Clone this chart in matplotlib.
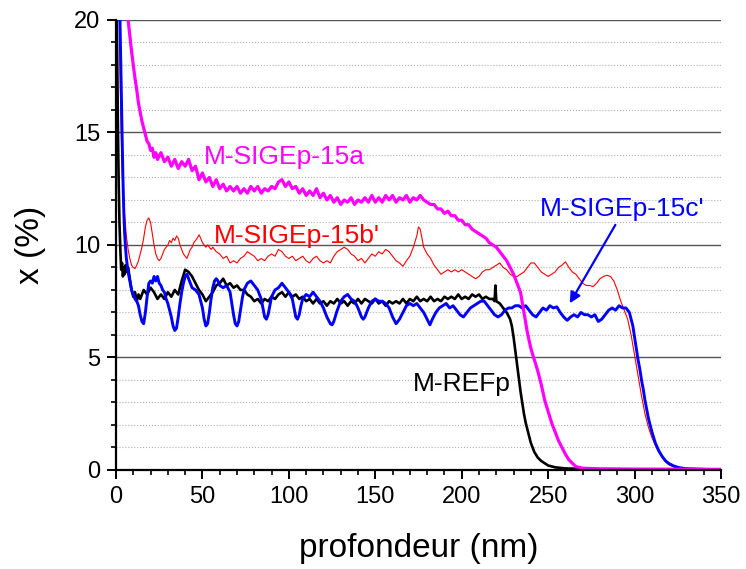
import matplotlib
matplotlib.use("Agg")
import matplotlib.pyplot as plt
from matplotlib.ticker import MultipleLocator

plt.rcParams['font.family'] = ['Liberation Sans', 'DejaVu Sans']

# --- data (depth in nm, x in %) ---
mag_x = [7, 8, 9, 10, 11, 12, 13, 14, 15, 16, 17, 18, 19, 20, 21, 22, 23,
         24, 26, 28, 30, 32, 34, 36, 38, 40, 42, 44, 46, 48, 50, 52, 54, 56, 58,
         60, 62, 64, 66, 68, 70, 72, 74, 76, 78, 80, 82, 84, 86, 88, 90, 92, 94,
         96, 98, 100, 102, 104, 106, 108, 110, 112, 114, 116, 118, 120, 122, 124,
         126, 128, 130, 132, 134, 136, 138, 140, 142, 144, 146, 148, 150, 152,
         154, 156, 158, 160, 162, 164, 166, 168, 170, 172, 174, 176, 178, 180,
         182, 184, 186, 188, 190, 192, 194, 196, 198, 200, 202, 204, 206, 208,
         210, 212, 214, 216, 218, 220, 222, 224, 226, 228, 230, 232, 234, 236,
         238, 240, 242, 244, 246, 248, 250, 252, 254, 256, 258, 260, 262, 264,
         266, 270, 280, 300, 350]
mag_y = [20, 19.3, 18.6, 18.0, 17.4, 16.9, 16.3, 15.9, 15.5, 15.2, 14.9, 14.6, 14.5, 14.2, 14.3, 13.9, 14.1,
         13.8, 14.1, 13.7, 13.9, 13.5, 13.8, 13.4, 13.7, 13.5, 13.8, 13.3, 13.5, 12.9, 13.2, 12.8, 13.0, 12.6, 12.9,
         12.5, 12.7, 12.4, 12.6, 12.4, 12.6, 12.3, 12.5, 12.3, 12.6, 12.4, 12.6, 12.3, 12.5, 12.4, 12.6, 12.5, 12.8,
         12.9, 12.6, 12.8, 12.5, 12.6, 12.3, 12.5, 12.2, 12.4, 12.2, 12.5, 12.1, 12.3, 12.0, 12.2,
         11.9, 12.1, 11.8, 12.0, 11.9, 12.1, 11.8, 12.0, 11.9, 12.1, 11.9, 12.2, 11.9, 12.1,
         11.9, 12.2, 12.0, 12.2, 11.9, 12.1, 12.0, 12.2, 11.9, 12.1, 12.0, 12.2, 12.0, 11.9,
         11.8, 11.8, 11.6, 11.6, 11.4, 11.5, 11.3, 11.3, 11.1, 11.1, 10.9, 10.9, 10.7, 10.6,
         10.5, 10.4, 10.3, 10.1, 10.0, 9.9, 9.7, 9.5, 9.3, 9.0, 8.7, 8.3, 7.9, 7.0,
         6.1, 5.4, 4.9, 4.4, 3.8, 3.1, 2.6, 2.1, 1.7, 1.3, 1.0, 0.7, 0.45, 0.3,
         0.15, 0.08, 0.05, 0.04, 0.03]

ref_x = [0.5, 1, 1.5, 2, 2.5, 3, 3.5, 4, 4.5, 5, 5.5, 6, 7, 8, 9, 10, 11, 12, 13, 14,
         16, 18, 20, 22, 24, 26, 28, 30, 32, 34, 36, 38, 40, 42, 44, 46, 48, 50,
         52, 54, 56, 58, 60, 62, 64, 66, 68, 70, 72, 74, 76, 78, 80, 82, 84, 86,
         88, 90, 92, 94, 96, 98, 100, 102, 104, 106, 108, 110, 112, 114, 116, 118,
         120, 122, 124, 126, 128, 130, 132, 134, 136, 138, 140, 142, 144, 146,
         148, 150, 152, 154, 156, 158, 160, 162, 164, 166, 168, 170, 172, 174,
         176, 178, 180, 182, 184, 186, 188, 190, 192, 194, 196, 198, 200, 202,
         204, 206, 208, 210, 212, 214, 216, 218, 219, 219.5, 220, 222, 224, 226,
         228, 229, 230, 231, 232, 233, 234, 235, 236, 237, 238, 239, 240, 242,
         244, 246, 248, 250, 254, 260, 270, 280, 300]
ref_y = [20, 16, 13, 11, 9.8, 8.9, 9.2, 8.6, 9.0, 8.7, 9.1, 8.8, 9.0, 8.5, 8.0, 7.7, 7.9, 7.5, 7.8, 7.6,
         8.0, 7.8, 8.1, 7.9, 7.6, 7.8, 7.6, 7.9, 7.7, 8.0, 7.8, 8.4, 8.9, 8.8, 8.6, 8.3, 8.0, 7.8,
         7.5, 7.7, 7.9, 8.2, 8.3, 8.5, 8.2, 8.3, 8.1, 8.2, 8.0, 8.0, 7.8, 7.7, 7.5, 7.6, 7.4, 7.6,
         7.5, 7.7, 7.6, 7.8, 7.9, 7.7, 7.9, 7.7, 7.8, 7.6, 7.7, 7.5, 7.6, 7.4, 7.6, 7.4,
         7.5, 7.3, 7.5, 7.4, 7.6, 7.4, 7.5, 7.3, 7.5, 7.4, 7.6, 7.4, 7.6, 7.5,
         7.4, 7.6, 7.4, 7.5, 7.3, 7.5, 7.4, 7.5, 7.4, 7.6, 7.4, 7.6, 7.5, 7.7,
         7.5, 7.6, 7.5, 7.7, 7.5, 7.6, 7.5, 7.7, 7.6, 7.7, 7.6, 7.8, 7.6, 7.7,
         7.6, 7.8, 7.7, 7.8, 7.6, 7.7, 7.6, 7.6, 7.5, 8.2, 7.5, 7.4, 7.2, 7.0,
         6.7, 6.4, 5.9, 5.3, 4.7, 4.1, 3.5, 3.0, 2.5, 2.1, 1.8, 1.5, 1.2, 0.8,
         0.55, 0.4, 0.3, 0.2, 0.12, 0.07, 0.05, 0.04, 0.03]

c_x = [2.3, 3, 3.5, 4, 4.5, 5, 5.5, 6, 7, 8, 9, 10, 11, 12, 13, 14, 15, 16, 17, 18, 19, 20,
       21, 22, 23, 24, 25, 26, 27, 28, 29, 30, 31, 32, 33, 34, 35, 36, 37, 38, 39, 40,
       41, 42, 43, 44, 46, 48, 50, 51, 52, 53, 54, 55, 56, 57, 58, 59, 60, 62, 64, 66,
       67, 68, 69, 70, 71, 72, 73, 74, 76, 78, 80, 82, 84, 85, 86, 87, 88, 89, 90, 92,
       94, 96, 98, 100, 102, 103, 104, 105, 106, 107, 108, 110, 112, 114, 116, 118,
       120, 122, 124, 125, 126, 128, 130, 132, 134, 136, 138, 140, 142, 143, 144, 146,
       148, 150, 152, 154, 156, 158, 160, 162, 164, 166, 168, 170, 172, 174, 176, 178,
       180, 181.6, 183, 185, 187, 189, 191, 193, 195, 197, 199, 201, 203, 205, 207, 209,
       211, 213, 215, 217, 219, 221, 223, 225, 227, 229, 231, 233, 235, 237, 239, 241,
       243, 245, 247, 249, 251, 253, 255, 257, 259, 261, 263, 265, 267, 269, 271, 273,
       275, 277, 279, 281, 283, 285, 287, 289, 291, 293, 295, 297, 299, 300, 301, 302,
       303, 304, 305, 306, 307, 308, 309, 310, 312, 314, 316, 318, 320, 323, 326, 330,
       340, 345]
c_y = [20, 17, 15, 13, 11.5, 10.5, 9.9, 9.4, 8.8, 8.4, 8.0, 7.8, 7.6, 7.5, 7.3, 6.9, 6.6, 6.5, 7.0, 7.7, 8.3, 8.4,
       8.3, 8.6, 8.4, 8.6, 8.3, 8.2, 8.0, 7.9, 7.6, 7.4, 7.1, 6.8, 6.4, 6.2, 6.3, 6.8, 7.4, 7.9, 8.3, 8.6,
       8.7, 8.5, 8.3, 8.1, 8.0, 7.8, 7.2, 6.7, 6.4, 6.5, 7.0, 7.6, 8.1, 8.4, 8.5, 8.4, 8.2, 8.1, 8.2, 7.9,
       7.4, 6.9, 6.5, 6.4, 6.6, 7.1, 7.6, 8.0, 8.3, 8.4, 8.2, 8.0, 7.6, 7.2, 6.8, 6.7, 6.9, 7.3, 7.7, 8.0,
       8.1, 8.3, 8.1, 7.9, 7.6, 7.2, 6.8, 6.7, 6.9, 7.3, 7.6, 7.8, 7.7, 7.9, 7.7, 7.5,
       7.2, 6.8, 6.5, 6.45, 6.6, 7.1, 7.5, 7.7, 7.8, 7.6, 7.5, 7.2, 6.8, 6.7, 6.8, 7.2,
       7.5, 7.6, 7.5, 7.5, 7.4, 7.2, 6.8, 6.5, 6.7, 7.0, 7.3, 7.4, 7.3, 7.4, 7.2, 7.0,
       6.7, 6.45, 6.7, 7.0, 7.2, 7.3, 7.4, 7.2, 7.3, 7.1, 6.9, 6.8, 7.0, 7.2, 7.3, 7.4,
       7.5, 7.5, 7.3, 7.1, 6.9, 6.8, 6.9, 7.1, 7.2, 7.2, 7.3, 7.3, 7.2, 7.3, 7.1, 6.9,
       6.8, 7.0, 7.2, 7.1, 7.3, 7.2, 7.25, 7.0, 6.8, 6.65, 6.8, 6.9, 6.8, 7.0, 6.9, 6.9,
       6.8, 6.9, 6.6, 6.7, 6.9, 7.1, 7.2, 7.1, 7.3, 7.2, 7.2, 7.0, 6.4, 5.9, 5.4, 4.9,
       4.5, 4.0, 3.6, 3.1, 2.7, 2.3, 2.0, 1.7, 1.2, 0.85, 0.6, 0.4, 0.28, 0.17, 0.1, 0.06,
       0.03, 0.02]

b_x = [2, 2.5, 3, 3.5, 4, 5, 6, 7, 8, 9, 10, 11, 12, 13, 14, 15, 16, 17, 18, 19, 20,
       21, 22, 23, 24, 25, 26, 27, 28, 29, 30, 31, 32, 33, 34, 35, 36, 37, 38, 39, 40,
       41, 42, 43, 44, 45, 46, 47, 48, 49, 50, 51, 52, 53, 54, 55, 56, 58, 60, 62, 64,
       66, 68, 70, 72, 74, 76, 78, 80, 82, 84, 86, 88, 90, 92, 94, 96, 98, 100, 102,
       104, 106, 108, 110, 112, 114, 116, 118, 120, 122, 124, 126, 128, 130, 132, 134,
       136, 138, 140, 142, 144, 146, 148, 150, 152, 154, 156, 158, 160, 162, 164, 166,
       168, 170, 172, 174, 175, 176, 177, 178, 180, 182, 184, 186, 188, 190, 192, 194,
       196, 198, 200, 202, 204, 206, 208, 210, 212, 214, 216, 218, 220, 222, 224, 226,
       228, 230, 232, 234, 236, 238, 240, 242, 244, 246, 248, 250, 252, 254, 256, 258,
       260, 262, 264, 266, 268, 270, 272, 274, 276, 278, 280, 282, 284, 286, 288, 290,
       292, 294, 296, 298, 300, 302, 304, 306, 308, 310, 312, 314, 316, 318, 320, 323,
       326, 330, 340, 345]
b_y = [20, 17, 15, 13.5, 12.5, 11.3, 10.4, 9.8, 9.4, 9.1, 9.0, 8.95, 9.1, 9.3, 9.6, 9.9, 10.3, 10.8, 11.1, 11.2, 11.0,
       10.5, 10.0, 9.6, 9.4, 9.3, 9.4, 9.6, 9.8, 9.9, 10.0, 10.2, 10.1, 10.3, 10.2, 10.4, 10.3, 10.0, 9.8, 9.6, 9.5,
       9.4, 9.6, 9.8, 9.9, 10.1, 10.2, 10.3, 10.45, 10.3, 10.1, 10.0, 9.9, 10.0, 9.9, 9.8, 9.9, 9.7, 9.6, 9.4, 9.5,
       9.2, 9.3, 9.2, 9.4, 9.5, 9.7, 9.6, 9.5, 9.3, 9.4, 9.3, 9.5, 9.6, 9.5, 9.8, 9.7, 9.5, 9.4, 9.5,
       9.3, 9.4, 9.5, 9.3, 9.2, 9.4, 9.5, 9.3, 9.2, 9.3, 9.2, 9.5, 9.7, 9.8, 9.9, 9.8,
       9.6, 9.5, 9.3, 9.4, 9.2, 9.4, 9.6, 9.5, 9.7, 9.6, 9.8, 9.7, 9.5, 9.3, 9.2, 9.05,
       9.3, 9.5, 9.9, 10.4, 10.8, 10.7, 10.3, 9.9, 9.6, 9.4, 9.1, 8.9, 8.7, 8.8, 8.9, 8.8,
       8.9, 8.8, 8.9, 8.8, 8.7, 8.6, 8.5, 8.6, 8.8, 8.9, 8.9, 9.0, 9.1, 9.2, 9.0, 8.9,
       8.7, 8.6, 8.6, 8.7, 8.8, 9.0, 9.2, 9.2, 9.0, 8.8, 8.7, 8.6, 8.7, 8.8, 9.0, 9.1,
       9.25, 9.0, 8.8, 8.7, 8.5, 8.3, 8.2, 8.2, 8.15, 8.3, 8.5, 8.6, 8.65, 8.6, 8.4, 8.0,
       7.5, 7.1, 6.7, 6.0, 5.1, 4.2, 3.3, 2.5, 1.9, 1.45, 1.1, 0.8, 0.55, 0.35, 0.22, 0.13,
       0.08, 0.05, 0.02, 0.01]

fig = plt.figure(figsize=(7.46, 5.69), dpi=100)
ax = fig.add_axes([0.1555, 0.174, 0.811, 0.791])

ax.plot(b_x, b_y, color='#ff0000', lw=0.8)
ax.plot(ref_x, ref_y, color='black', lw=1.9)
ax.plot(c_x, c_y, color='#0000ff', lw=2.1)
ax.plot(mag_x, mag_y, color='#ff00ff', lw=2.3)

ax.set_xlim(0, 350)
ax.set_ylim(0, 20)
ax.xaxis.set_major_locator(MultipleLocator(50))
ax.xaxis.set_minor_locator(MultipleLocator(10))
ax.yaxis.set_major_locator(MultipleLocator(5))
ax.yaxis.set_minor_locator(MultipleLocator(1))

ax.grid(which='major', axis='y', color='#555555', lw=1.0, ls='-')
ax.grid(which='minor', axis='y', color='#b0b0b0', lw=0.8, ls=':')
ax.get_ygridlines()[-1].set_visible(False)
ax.set_axisbelow(True)

for s in ['top', 'right']:
    ax.spines[s].set_visible(False)
for s in ['left', 'bottom']:
    ax.spines[s].set_linewidth(1.6)

ax.tick_params(which='major', direction='out', length=6.5, width=1.4, labelsize=17, pad=5)
ax.tick_params(which='minor', direction='out', length=3.8, width=1.2)

ax.set_xlabel('profondeur (nm)', fontsize=24, labelpad=18)
ax.set_ylabel('x (%)', fontsize=24, labelpad=20)

ax.text(51, 13.9, 'M-SIGEp-15a', color='#ff00ff', fontsize=19, va='center')
ax.text(56.5, 10.4, "M-SIGEp-15b'", color='#ff0000', fontsize=19, va='center')
ax.text(245, 11.6, "M-SIGEp-15c'", color='#0000ff', fontsize=19, va='center')
ax.text(171.5, 3.8, 'M-REFp', color='black', fontsize=19, va='center')
ax.annotate('', xy=(261.7, 7.3), xytext=(289.7, 11.0),
            arrowprops=dict(arrowstyle='-|>', color='#0000ff', lw=1.6, mutation_scale=16))

fig.savefig('out.png', dpi=100)
